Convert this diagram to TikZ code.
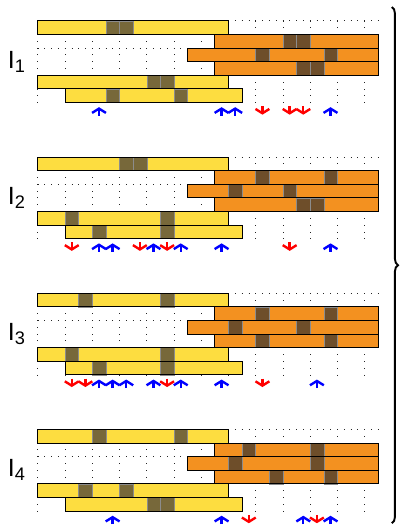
\documentclass[tikz,border=0pt]{standalone}
\usepackage{fontspec}
\setmainfont{Liberation Sans}
\usetikzlibrary{arrows.meta,decorations.pathreplacing}

\definecolor{baryellow}{RGB}{253,221,64}
\definecolor{barorange}{RGB}{243,145,32}
\definecolor{darkyellow}{RGB}{119,104,58}
\definecolor{darkorange}{RGB}{110,78,42}

\begin{document}
\begin{tikzpicture}[
    x=0.5cm, y=0.5cm,
    gridline/.style={black!85, line width=0.55pt, dash pattern=on 0.55pt off 6.563pt, dash phase=0.275pt},
    barline/.style={draw=black, line width=0.8pt},
    cellline/.style={draw=black!45, line width=0.3pt},
    upmark/.style={blue, line width=2.5pt, -{Straight Barb[length=4.5pt,width=14.5pt]}},
    downmark/.style={red, line width=2.5pt, -{Straight Barb[length=4.5pt,width=14.5pt]}},
    panellabel/.style={anchor=base west, inner sep=0pt, font=\fontsize{26}{30}\selectfont}
]
\useasboundingbox (-2.77,1.52) rectangle (26.53,-37.03);

% dotted background grid of each panel
\foreach \p in {0,...,3}
  \draw[gridline] (0,-10*\p) grid (25,-10*\p-6);

% bars: panel / row / first cell / last cell / colour / dark cells
\foreach \p/\r/\a/\b/\c/\d in {
    0/1/0/14/yellow/{5,6},   0/2/13/25/orange/{18,19}, 0/3/11/25/orange/{16,21},
    0/4/13/25/orange/{19,20}, 0/5/0/14/yellow/{8,9},   0/6/2/15/yellow/{5,10},
    1/1/0/14/yellow/{6,7},   1/2/13/25/orange/{16,21}, 1/3/11/25/orange/{14,18},
    1/4/13/25/orange/{19,20}, 1/5/0/14/yellow/{2,9},   1/6/2/15/yellow/{4,9},
    2/1/0/14/yellow/{3,9},   2/2/13/25/orange/{16,21}, 2/3/11/25/orange/{14,19},
    2/4/13/25/orange/{16,21}, 2/5/0/14/yellow/{2,9},   2/6/2/15/yellow/{4,9},
    3/1/0/14/yellow/{4,10},  3/2/13/25/orange/{15,20}, 3/3/11/25/orange/{14,20},
    3/4/13/25/orange/{17,21}, 3/5/0/14/yellow/{3,6},   3/6/2/15/yellow/{8,9}}
{
  \fill[bar\c] (\a,-10*\p-\r+1) rectangle (\b,-10*\p-\r);
  \foreach \k in \d
    \filldraw[fill=dark\c, cellline] (\k,-10*\p-\r+1) rectangle (\k+1,-10*\p-\r);
  \draw[barline] (\a,-10*\p-\r+1) rectangle (\b,-10*\p-\r);
}

% arrows under the bars
\foreach \p/\xs in {0/{4.5,13.5,14.5,21.5}, 1/{4.5,5.5,8.5,10.5,13.5,21.5},
                    2/{4.5,5.5,6.5,8.5,10.5,13.5,20.5}, 3/{5.5,13.5,19.5,21.5}}
  \foreach \x in \xs
    \draw[upmark] (\x,-10*\p-6.97) -- (\x,-10*\p-6.35);
\foreach \p/\xs in {0/{16.5,18.5,19.5}, 1/{2.5,7.5,9.5,18.5},
                    2/{2.5,3.5,9.5,16.5}, 3/{15.5,20.5}}
  \foreach \x in \xs
    \draw[downmark] (\x,-10*\p-6.28) -- (\x,-10*\p-6.9);

% panel names
\foreach \n in {1,...,4}
  \node[panellabel] (lbl\n) at (-2.2,-10*\n+10-3.5)
    {I\raisebox{-4pt}{\fontsize{19}{19}\selectfont\n}};

\draw[line width=2pt, decorate, decoration={brace, amplitude=6.5pt}]
  (26.0,1.0) -- (26.0,-36.9);

\end{tikzpicture}
\end{document}
